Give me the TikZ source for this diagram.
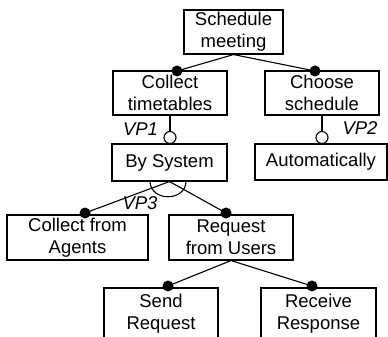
\documentclass[tikz,border=0pt]{standalone}
\usepackage{fontspec}
\setmainfont{Liberation Sans}
\begin{document}
\begin{tikzpicture}[x=1pt,y=-1pt,
  box/.style={draw,line width=1.1pt,inner sep=0pt,align=center,font=\fontsize{18.5}{22}\selectfont},
  lbl/.style={inner sep=0pt,font=\fontsize{18.5}{22}\selectfont\itshape},
  conn/.style={line width=1.1pt},
  fdot/.style={circle,fill=black,inner sep=0pt,minimum size=11pt},
  odot/.style={circle,draw,fill=white,line width=1.1pt,inner sep=0pt,minimum size=12pt}]
\useasboundingbox (0,0) rectangle (388,337);
\clip (0,0) rectangle (388,337);
\node[box,minimum width=99pt,minimum height=44pt] (sm) at (233.5,32) {Schedule\\meeting};
\node[box,minimum width=114pt,minimum height=44pt] (ct) at (170,93) {Collect\\timetables};
\node[box,minimum width=114pt,minimum height=44pt] (cs) at (322,93) {Choose\\schedule};
\node[box,minimum width=115pt,minimum height=37pt] (bs) at (169.5,162.5) {By System};
\node[box,minimum width=132pt,minimum height=36pt] (au) at (321,162) {Automatically};
\node[box,minimum width=141pt,minimum height=45pt] (ca) at (77.5,237.5) {Collect from\\Agents};
\node[box,minimum width=124pt,minimum height=45pt] (ru) at (231,237.5) {Request\\from Users};
\node[box,minimum width=114pt,minimum height=52pt] (sr) at (161,314) {Send\\Request};
\node[box,minimum width=115pt,minimum height=52pt] (rr) at (318.5,314) {Receive\\Response};
% mandatory links
\coordinate (d1) at (177,71);
\coordinate (d2) at (315,71);
\coordinate (d3) at (85,213);
\coordinate (d4) at (226,213);
\coordinate (d5) at (168,286);
\coordinate (d6) at (312,286);
\draw[conn] (sm.south) -- (d1);
\draw[conn] (sm.south) -- (d2);
\draw[conn] (bs.south) -- (d3);
\draw[conn] (bs.south) -- (d4);
\draw[conn] (ru.south) -- (d5);
\draw[conn] (ru.south) -- (d6);
\foreach \d in {d1,d2,d3,d4,d5,d6} \node[fdot] at (\d) {};
% optional links
\node[odot] (o1) at (170,137.5) {};
\node[odot] (o2) at (322,137.5) {};
\draw[conn] (ct.south) -- (o1.north);
\draw[conn] (cs.south) -- (o2.north);
% alternative arc
\draw[conn] (150,181) .. controls (150,202) and (186,202) .. (186,181);
\node[lbl] (vp1) at (140.5,129) {VP1};
\node[lbl] (vp2) at (360,128) {VP2};
\node[lbl] (vp3) at (140,203) {VP3};
\end{tikzpicture}
\end{document}
